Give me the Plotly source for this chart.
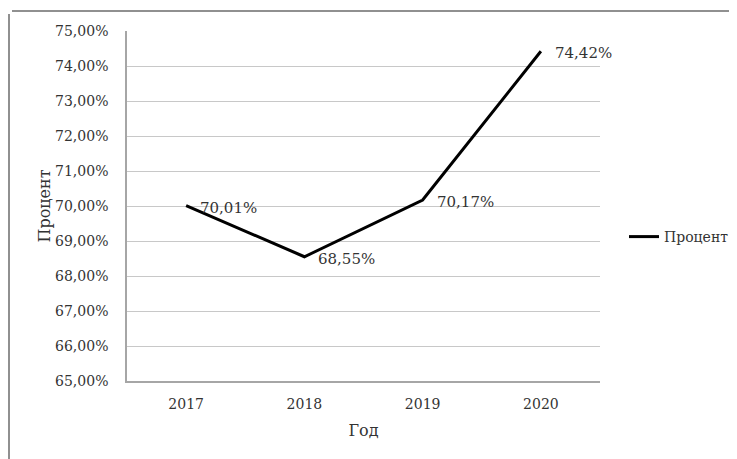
import plotly.graph_objects as go

years = ["2017", "2018", "2019", "2020"]
percent = [70.01, 68.55, 70.17, 74.42]
labels = ["70,01%", "68,55%", "70,17%", "74,42%"]
y_ticks = [65, 66, 67, 68, 69, 70, 71, 72, 73, 74, 75]
y_tick_text = [f"{v},00%" for v in y_ticks]

# page body has an 8px margin; lay out in reference pixel coords
OFF = 8
W, H = 737 - OFF, 459 - OFF
L, R, T, B = 127 - OFF, 137, 31 - OFF, 78
pw, ph = W - L - R, H - T - B


def px(x):
    return (x - 127) / pw


def py(y):
    return (381 - y) / ph


font = "DejaVu Serif"
col = "#333333"
fig = go.Figure()
fig.add_trace(go.Scatter(
    x=years, y=percent, mode="lines", name="Процент",
    line=dict(color="black", width=3),
))

annotations = [
    dict(x=i, y=y, xref="x", yref="y", text=t, showarrow=False,
         xanchor="left", yanchor="middle", xshift=12, yshift=-2,
         font=dict(family=font, size=15, color=col))
    for i, (y, t) in enumerate(zip(percent, labels))
]

fig.update_layout(
    width=W, height=H,
    margin=dict(l=L, r=R, t=T, b=B, autoexpand=False),
    paper_bgcolor="white", plot_bgcolor="white",
    font=dict(family=font, size=14, color=col),
    showlegend=True,
    legend=dict(x=px(624), y=py(237), xanchor="left", yanchor="middle",
                font=dict(family=font, size=14, color=col),
                itemwidth=30, bgcolor="rgba(0,0,0,0)"),
    annotations=annotations,
    xaxis=dict(
        type="category", range=[-0.5, 3.5],
        showgrid=False, showline=True, linecolor="#a6a6a6", linewidth=1.5,
        ticks="", ticklabelstandoff=9,
        tickfont=dict(family=font, size=14, color=col),
        title=dict(text="Год", font=dict(family=font, size=16, color=col), standoff=14),
    ),
    yaxis=dict(
        range=[65, 75], tickvals=y_ticks, ticktext=y_tick_text,
        showgrid=True, gridcolor="#c8c8c8", gridwidth=1.2,
        showline=True, linecolor="#a6a6a6", linewidth=1.5,
        ticks="", ticklabelstandoff=14, zeroline=False,
        tickfont=dict(family=font, size=14, color=col),
        title=dict(text="Процент", font=dict(family=font, size=16, color=col), standoff=0),
    ),
    shapes=[
        dict(type="line", xref="paper", yref="paper",
             x0=px(9), x1=px(9), y0=py(14), y1=py(462),
             line=dict(color="#909090", width=2)),
        dict(type="line", xref="paper", yref="paper",
             x0=px(12), x1=px(740), y0=py(11), y1=py(11),
             line=dict(color="#909090", width=2)),
    ],
)

fig.write_html("out.html")
